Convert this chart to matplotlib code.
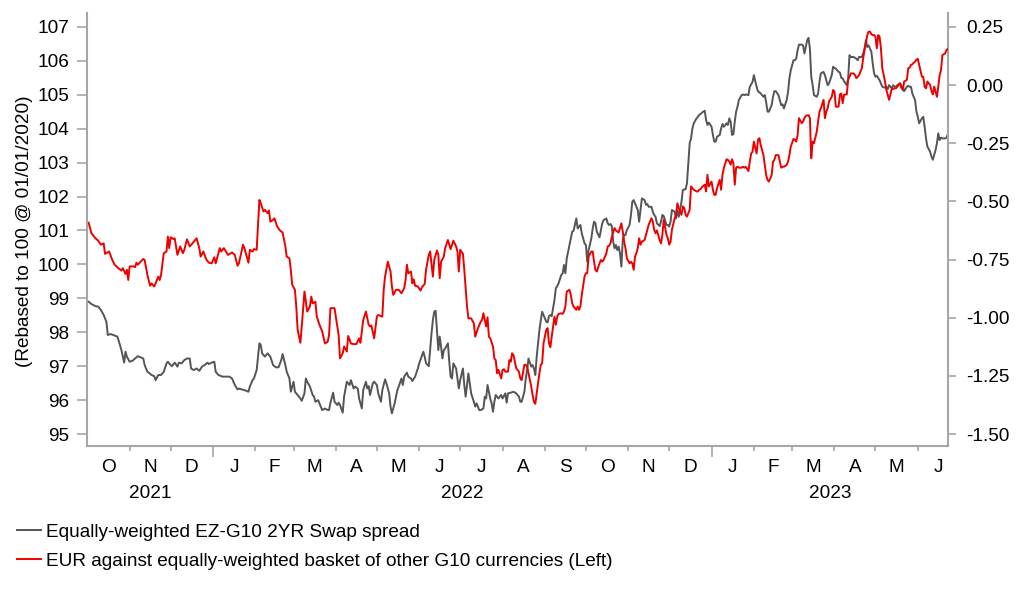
import matplotlib
matplotlib.use("Agg")
import matplotlib.pyplot as plt
import matplotlib.transforms as mtransforms
from matplotlib.ticker import FixedLocator, NullFormatter
import matplotlib.dates as mdates
import pandas as pd

plt.rcParams['font.family'] = ['Liberation Sans', 'DejaVu Sans']
plt.rcParams['axes.unicode_minus'] = False

# ---------------- data ----------------
start_date = "2021-10-01"
end_date = "2023-06-23"

# EUR against equally-weighted basket (left axis), days since start_date
eur_days = [1, 3, 6, 8, 10, 12, 13, 16, 18, 20, 23, 25, 26, 28, 29, 30, 31, 34, 35, 36, 37, 39, 41, 42, 44, 46, 47, 49, 50, 52, 53, 54, 56, 58, 59, 60, 61, 63, 64, 66, 68, 70, 71, 73, 75, 77, 80, 82, 83, 85, 87, 89, 91, 93, 94, 97, 98, 100, 102, 103, 106, 108, 110, 111, 114, 115, 118, 119, 121, 122, 124, 126, 127, 129, 130, 132, 133, 134, 136, 137, 139, 141, 143, 145, 146, 148, 149, 150, 152, 153, 154, 156, 157, 159,
            161, 163, 164, 165, 167, 168, 170, 172, 174, 176, 177, 178, 180, 181, 183, 184, 185, 187, 188, 190, 191, 193, 195, 197, 199, 200, 201, 202, 204, 206, 207, 208, 210, 212, 213, 216, 217, 218, 220, 222, 223, 224, 226, 228, 230, 232, 233, 234, 235, 237, 238, 239, 240, 242, 244, 245, 247, 248, 250, 251, 253, 254, 256, 257, 258, 259, 261, 262, 264, 266, 267, 268, 270, 271, 272, 273, 275, 276, 278, 279, 281, 283, 284, 286, 288, 289, 290, 292, 293, 294, 295, 297, 298, 299, 300, 301, 303, 304, 305, 306, 308, 309, 310, 311, 312, 314, 315, 316, 317,
            318, 320, 321, 322, 323, 325, 326, 327, 328, 329, 331, 332, 333, 334, 336, 337, 338, 339, 340, 342, 343, 344, 345, 347, 348, 349, 350, 351, 353, 354, 355, 356, 358, 359, 360, 361, 362, 364, 365, 366, 367, 369, 370, 371, 372, 373, 375, 376, 377, 378, 380, 381, 382, 383, 384, 386, 387, 388, 389, 391, 392, 393, 394, 395, 397, 398, 399, 400, 401, 402, 403, 404, 405, 406, 408, 409, 410, 411, 413, 414, 415, 416, 417, 419, 420, 421, 422, 424, 425, 426, 427, 428, 430, 431, 432, 433, 435, 436, 437, 438, 439, 441, 442, 443, 444, 446, 447, 448, 449, 450, 452, 453, 454, 455, 457, 458, 459, 460, 461, 463, 464, 465, 466, 468, 469, 470, 471, 472, 473, 474, 475,
            476, 477, 479, 480, 481, 482, 484, 485, 486, 487, 488, 490, 491, 492, 493, 495, 496, 497, 498, 499, 501, 502, 503, 504, 506, 507, 508, 509, 510, 512, 513, 514, 515, 517, 518, 519, 520, 521, 523, 524, 525, 526, 528, 529, 530, 531, 532, 534, 535, 536, 537, 539, 540, 541, 542, 543, 545, 546, 547, 548, 550, 551, 552, 553, 554, 556, 557, 558, 559, 561, 562, 563, 564, 565, 567, 568, 569, 570, 571, 572, 573, 574, 575, 576, 577, 578, 579, 580, 581, 582, 584, 585, 586, 587, 589, 590, 591, 592, 593, 595, 596, 597, 598, 600, 601, 602, 603, 604, 606, 607, 608, 609, 611, 612, 613, 614, 615, 617, 618, 619, 620, 622, 623, 624, 625, 626, 628, 629, 630]
eur_values = [101.23, 100.92, 100.77, 100.70, 100.58, 100.62, 100.31, 100.38, 100.16, 99.99, 99.88, 99.82, 99.89, 99.72, 99.84, 99.54, 99.94, 99.94, 99.92, 100.05, 99.99, 100.08, 100.16, 100.13, 99.69, 99.37, 99.44, 99.35, 99.44, 99.64, 99.54, 99.69, 100.33, 100.38, 100.82, 100.48, 100.80, 100.75, 100.77, 100.28, 100.53, 100.33, 100.43, 100.74, 100.53, 100.62, 100.77, 100.48, 100.23, 100.38, 100.15, 100.05, 100.03, 100.21, 100.03, 100.48, 100.38, 100.48, 100.35, 100.28, 100.35, 100.28, 99.96, 100.03, 100.58, 100.48, 100.05, 100.43, 100.38, 100.45, 100.43, 101.90, 101.80, 101.56, 101.61, 101.51, 101.59, 101.26, 101.31, 101.36, 101.12, 101.00, 100.94, 100.53, 100.23, 100.18, 99.84, 99.40, 99.25, 98.76, 98.07, 97.69, 98.17, 99.20,
              98.61, 98.76, 99.05, 98.85, 98.90, 98.46, 98.22, 98.02, 97.67, 97.72, 97.92, 98.71, 98.71, 98.71, 98.17, 97.92, 97.23, 97.38, 97.58, 97.43, 97.89, 97.67, 97.65, 97.65, 97.82, 97.69, 98.02, 98.36, 98.61, 98.22, 98.17, 98.20, 97.82, 98.46, 98.51, 98.46, 99.25, 99.64, 100.08, 99.79, 99.35, 99.10, 99.25, 99.25, 99.15, 99.30, 99.54, 99.99, 99.74, 99.79, 99.44, 99.56, 99.37, 99.35, 99.23, 99.33, 99.42, 99.84, 100.28, 100.38, 99.64, 100.13, 100.41, 100.28, 99.59, 100.08, 100.23, 100.48, 100.72, 100.45, 100.58, 100.70, 100.53, 100.38, 99.79, 100.43, 100.31, 99.84, 98.76, 98.41, 98.41, 98.26, 97.87, 98.12, 98.31, 98.36, 98.56, 98.17, 98.44, 97.87, 97.82, 97.58, 97.23, 97.18, 96.79, 96.89, 96.64, 96.89, 96.91, 96.84, 96.84, 97.18, 97.13, 97.38, 97.33, 96.94, 96.89, 96.84, 96.64,
              96.59, 97.04, 97.04, 96.99, 96.79, 96.40, 96.15, 95.95, 95.89, 96.20, 96.79, 97.04, 97.08, 97.67, 98.07, 98.12, 97.67, 97.56, 97.87, 98.46, 98.22, 98.46, 98.54, 98.56, 98.54, 98.61, 98.76, 99.20, 99.25, 99.10, 98.85, 98.76, 98.66, 98.76, 98.66, 98.76, 99.10, 99.64, 99.74, 99.74, 100.23, 100.38, 100.38, 100.08, 99.84, 99.79, 100.03, 100.13, 100.08, 100.13, 100.33, 100.53, 100.55, 100.62, 100.82, 101.07, 101.00, 100.97, 100.94, 101.21, 100.97, 100.67, 100.48, 100.18, 100.03, 100.08, 100.03, 99.84, 100.23, 100.33, 100.48, 100.77, 100.58, 100.67, 100.72, 100.87, 101.02, 101.17, 101.36, 101.26, 101.02, 100.92, 101.00, 100.72, 100.62, 100.87, 101.31, 100.87, 100.77, 100.58, 100.67, 101.02, 101.36, 101.46, 101.80, 101.66, 101.46, 101.71, 101.66, 101.46, 101.41, 101.61, 102.30, 102.25, 102.20, 102.15, 102.15, 102.20, 102.22, 102.28, 102.35, 102.15, 102.64, 102.30, 102.44, 102.20, 102.05, 102.05, 102.25, 102.49, 102.20, 102.64, 102.84, 103.10, 103.08, 103.03, 102.94, 103.10, 102.98, 102.35, 102.85,
              102.88, 102.85, 102.85, 102.88, 102.85, 102.88, 102.75, 103.03, 103.27, 103.32, 103.62, 103.27, 103.67, 103.72, 103.52, 103.22, 102.93, 102.63, 102.49, 102.44, 102.63, 103.03, 103.08, 103.22, 103.22, 103.03, 102.85, 102.88, 102.88, 102.93, 103.03, 103.22, 103.47, 103.70, 103.67, 103.62, 103.81, 104.31, 104.16, 104.21, 104.31, 104.38, 104.40, 104.31, 103.13, 103.62, 103.57, 103.91, 104.21, 104.50, 104.60, 104.85, 104.31, 104.50, 104.60, 104.80, 104.94, 105.14, 105.09, 104.65, 104.65, 105.01, 105.04, 104.75, 105.00, 105.01, 105.44, 105.53, 105.63, 105.63, 105.58, 105.49, 105.53, 105.58, 105.78, 106.08, 106.32, 106.52, 106.76, 106.86, 106.86, 106.78, 106.76, 106.76, 106.71, 106.37, 106.76, 106.71, 106.37, 105.78, 105.39, 105.14, 104.99, 104.85, 105.19, 105.17, 105.19, 105.19, 105.24, 105.34, 105.24, 105.14, 105.39, 105.44, 105.78, 105.80, 105.88, 105.90, 105.98, 106.03, 106.06, 105.88, 105.53, 105.53, 105.24, 105.19, 105.39, 105.29, 105.11, 105.01, 105.24, 104.94, 105.24, 105.58, 105.73, 106.17, 106.22, 106.32, 106.35]

# Equally-weighted EZ-G10 2YR swap spread (right axis), days since start_date
spread_days = [1, 3, 6, 8, 10, 12, 14, 15, 17, 19, 22, 23, 25, 27, 28, 29, 31, 33, 35, 37, 39, 41, 42, 44, 45, 47, 49, 50, 52, 54, 56, 58, 59, 61, 62, 64, 66, 67, 69, 71, 73, 75, 76, 78, 80, 82, 84, 86, 88, 89, 91, 93, 94, 96, 99, 101, 104, 106, 108, 110, 111, 113, 115, 118, 119, 121, 122, 124, 126, 127, 128, 130, 132, 134, 136, 138, 140, 142, 143, 145, 146, 148, 149, 151, 152, 154, 156, 157, 159,
               160, 161, 163, 165, 166, 167, 169, 170, 172, 174, 175, 177, 178, 180, 181, 183, 184, 185, 187, 188, 190, 192, 193, 195, 196, 198, 199, 201, 202, 204, 205, 206, 207, 209, 210, 212, 213, 215, 216, 218, 219, 221, 222, 223, 225, 227, 228, 230, 231, 232, 234, 235, 237, 238, 240, 242, 243, 244, 246, 247, 248, 250, 251, 252, 253, 254, 255, 256, 257, 258, 259, 260, 261, 262, 264, 265, 266, 267, 268, 270, 271, 272, 273, 275, 276, 277, 279, 280, 281, 283, 284, 285, 287, 288, 290, 291, 292, 293, 295, 296, 297, 298, 299, 301, 302, 303, 304, 306, 307, 308, 310, 312, 314, 316, 317,
               318, 320, 321, 322, 323, 325, 326, 327, 328, 329, 331, 332, 333, 334, 336, 337, 338, 339, 340, 342, 343, 344, 345, 347, 348, 349, 350, 351, 353, 354, 355, 356, 358, 359, 360, 361, 362, 364, 365, 366, 367, 369, 370, 371, 372, 373, 375, 376, 377, 378, 380, 381, 382, 383, 384, 385, 386, 387, 388, 389, 390, 391, 392, 393, 394, 395, 397, 398, 399, 400, 402, 403, 404, 405, 406, 408, 409, 410, 411, 413, 414, 415, 416, 417, 419, 420, 421, 422, 424, 425, 426, 427, 428, 430, 431, 432, 433, 435, 436, 437, 438, 439, 441, 442, 443, 444, 446, 447, 448, 449, 450, 452, 453, 454, 455, 457, 458, 459, 460, 461, 463, 464, 465, 466, 468, 469, 470, 471, 472, 473, 474, 475,
               476, 477, 479, 480, 481, 482, 484, 485, 486, 487, 488, 490, 491, 492, 493, 495, 496, 497, 498, 499, 501, 502, 503, 504, 506, 507, 508, 509, 510, 512, 513, 514, 515, 517, 518, 519, 520, 521, 523, 524, 525, 526, 527, 528, 529, 530, 531, 532, 534, 535, 536, 537, 539, 540, 541, 542, 543, 545, 546, 547, 548, 550, 551, 552, 553, 554, 556, 557, 558, 559, 561, 562, 563, 564, 565, 567, 568, 569, 570, 571, 572, 573, 574, 575, 576, 577, 578, 580, 581, 582, 584, 585, 586, 587, 589, 590, 591, 592, 593, 595, 596, 597, 598, 600, 601, 602, 603, 604, 606, 607, 608, 609, 611, 612, 613, 614, 615, 617, 618, 619, 620, 621, 622, 623, 624, 625, 626, 628, 629, 630]
spread_values = [-0.931, -0.941, -0.950, -0.952, -0.967, -0.988, -1.017, -1.074, -1.070, -1.074, -1.081, -1.099, -1.139, -1.193, -1.146, -1.167, -1.189, -1.185, -1.175, -1.165, -1.170, -1.175, -1.203, -1.232, -1.236, -1.246, -1.251, -1.268, -1.246, -1.246, -1.232, -1.196, -1.189, -1.203, -1.208, -1.193, -1.210, -1.193, -1.196, -1.182, -1.175, -1.175, -1.218, -1.225, -1.218, -1.228, -1.210, -1.203, -1.193, -1.199, -1.193, -1.189, -1.232, -1.246, -1.253, -1.253, -1.253, -1.261, -1.289, -1.308, -1.304, -1.308, -1.311, -1.318, -1.296, -1.268, -1.261, -1.225, -1.110, -1.117, -1.153, -1.167, -1.153, -1.167, -1.203, -1.213, -1.213, -1.182, -1.156, -1.203, -1.232, -1.261, -1.318, -1.275, -1.318, -1.332, -1.347, -1.357, -1.325,
                 -1.261, -1.275, -1.296, -1.332, -1.339, -1.361, -1.354, -1.368, -1.397, -1.390, -1.394, -1.397, -1.365, -1.322, -1.361, -1.375, -1.365, -1.375, -1.408, -1.339, -1.275, -1.289, -1.268, -1.304, -1.296, -1.304, -1.347, -1.390, -1.311, -1.275, -1.304, -1.294, -1.332, -1.282, -1.275, -1.289, -1.325, -1.361, -1.311, -1.265, -1.282, -1.325, -1.382, -1.411, -1.368, -1.311, -1.296, -1.261, -1.289, -1.253, -1.236, -1.253, -1.261, -1.272, -1.253, -1.218, -1.196, -1.179, -1.146, -1.167, -1.196, -1.208, -1.139, -1.067, -1.010, -0.974, -0.970, -1.053, -1.139, -1.081, -1.124, -1.175, -1.139, -1.132, -1.110, -1.189, -1.253, -1.261, -1.196, -1.218, -1.261, -1.304, -1.268, -1.218, -1.289, -1.339, -1.239, -1.282, -1.325, -1.361, -1.382, -1.368, -1.397, -1.397, -1.390, -1.339, -1.347, -1.289, -1.347, -1.368, -1.404, -1.361, -1.332, -1.347, -1.339, -1.332, -1.347, -1.325, -1.365, -1.325, -1.322, -1.318, -1.325, -1.339, -1.361,
                 -1.361, -1.318, -1.261, -1.225, -1.175, -1.210, -1.203, -1.218, -1.246, -1.167, -1.053, -1.010, -0.974, -0.988, -1.017, -1.020, -0.993, -0.988, -0.993, -0.924, -0.874, -0.864, -0.852, -0.816, -0.809, -0.773, -0.809, -0.745, -0.687, -0.659, -0.630, -0.626, -0.573, -0.616, -0.608, -0.601, -0.637, -0.680, -0.687, -0.759, -0.709, -0.659, -0.616, -0.587, -0.594, -0.630, -0.654, -0.623, -0.594, -0.580, -0.573, -0.594, -0.601, -0.597, -0.606, -0.673, -0.702, -0.687, -0.709, -0.694, -0.723, -0.780, -0.666, -0.644, -0.644, -0.623, -0.601, -0.558, -0.501, -0.494, -0.523, -0.537, -0.587, -0.537, -0.487, -0.494, -0.515, -0.511, -0.523, -0.523, -0.544, -0.558, -0.566, -0.594, -0.606, -0.587, -0.558, -0.563, -0.601, -0.601, -0.608, -0.587, -0.537, -0.544, -0.573, -0.537, -0.566, -0.501, -0.451, -0.448, -0.448, -0.422, -0.250, -0.229, -0.186, -0.164, -0.143, -0.136, -0.128, -0.124, -0.118, -0.110, -0.150, -0.171, -0.161, -0.179, -0.214, -0.243, -0.243, -0.222, -0.214, -0.186, -0.167, -0.179, -0.164, -0.171, -0.143, -0.157, -0.214, -0.211, -0.157, -0.114,
                 -0.093, -0.064, -0.043, -0.040, -0.043, -0.040, -0.043, -0.007, 0.003, 0.014, 0.043, -0.007, -0.026, -0.031, -0.036, -0.050, -0.043, -0.074, -0.114, -0.114, -0.086, -0.050, -0.026, -0.026, -0.043, -0.064, -0.086, -0.083, -0.100, -0.064, -0.029, 0.029, 0.064, 0.107, 0.107, 0.114, 0.150, 0.174, 0.174, 0.171, 0.136, 0.164, 0.193, 0.203, 0.157, 0.036, 0.000, -0.043, -0.050, -0.036, 0.014, 0.050, 0.057, 0.043, 0.021, 0.000, 0.007, 0.043, 0.079, 0.074, 0.071, 0.057, 0.054, 0.031, 0.029, 0.017, 0.000, 0.029, 0.129, 0.121, 0.121, 0.117, 0.114, 0.107, 0.121, 0.121, 0.136, 0.157, 0.193, 0.164, 0.171, 0.157, 0.143, 0.093, 0.050, 0.036, 0.040, 0.021, 0.007, -0.007, -0.011, -0.007, -0.017, 0.000, -0.014, 0.000, -0.007, -0.007, 0.000, 0.007, -0.014, -0.007, -0.026, -0.007, -0.003, -0.007, -0.007, -0.036, -0.064, -0.114, -0.136, -0.164, -0.143, -0.136, -0.179, -0.229, -0.264, -0.286, -0.307, -0.321, -0.300, -0.279, -0.250, -0.207, -0.236, -0.226, -0.229, -0.229, -0.226, -0.211]

left_ticks = [95, 96, 97, 98, 99, 100, 101, 102, 103, 104, 105, 106, 107]
right_ticks = [-1.50, -1.25, -1.00, -0.75, -0.50, -0.25, 0.00, 0.25]
month_letters = ["O", "N", "D", "J", "F", "M", "A", "M", "J", "J", "A", "S",
                 "O", "N", "D", "J", "F", "M", "A", "M", "J"]
year_labels = ["2021", "2022", "2023"]

series_labels = ["Equally-weighted EZ-G10 2YR Swap spread",
                 "EUR against equally-weighted basket of other G10 currencies (Left)"]
y_label = "(Rebased to 100 @ 01/01/2020)"

# ---------------- styling ----------------
RED = "#ee0000"
GREY = "#555555"
AXIS = "#a6a6a6"
FS = 13.7

base = pd.Timestamp(start_date)
x_end = pd.Timestamp(end_date) + pd.Timedelta(hours=8)
eur_dates = base + pd.to_timedelta(eur_days, unit="D")
spread_dates = base + pd.to_timedelta(spread_days, unit="D")

fig = plt.figure(figsize=(10.22, 5.97), dpi=100)
ax = fig.add_axes([0.0854, 0.2534, 0.8425, 0.7248])
ax2 = ax.twinx()

ax2.plot(spread_dates, spread_values, color=GREY, lw=1.4, label=series_labels[0])
ax.plot(eur_dates, eur_values, color=RED, lw=1.4, label=series_labels[1])
ax.set_zorder(ax2.get_zorder() + 1)
ax.patch.set_visible(False)

ax.set_xlim(base, x_end)
ax.set_ylim(94.655, 107.41)
ax2.set_ylim(-1.550, 0.310)

ax.set_yticks(left_ticks)
ax.set_yticklabels([str(t) for t in left_ticks])
ax2.set_yticks(right_ticks)
ax2.set_yticklabels([f"{t:.2f}" for t in right_ticks])

month_starts = pd.date_range(start_date, periods=len(month_letters) + 1, freq="MS")
year_starts = [d for d in month_starts if d.month == 1]
ax.xaxis.set_major_locator(FixedLocator(mdates.date2num(year_starts)))
ax.xaxis.set_minor_locator(FixedLocator(mdates.date2num([d for d in month_starts if d.month != 1 and base < d < x_end])))
ax.xaxis.set_major_formatter(NullFormatter())
ax.xaxis.set_minor_formatter(NullFormatter())

for a in (ax, ax2):
    a.spines["top"].set_visible(False)
    for side in ("left", "right", "bottom"):
        a.spines[side].set_color(AXIS)
        a.spines[side].set_linewidth(1.5)
ax.spines["right"].set_visible(False)
ax2.spines["left"].set_visible(False)
ax2.spines["bottom"].set_visible(False)

ax.tick_params(axis="y", which="major", length=7, width=1.2, color=AXIS, pad=6, labelsize=FS)
ax2.tick_params(axis="y", which="major", length=6, width=1.2, color=AXIS, pad=7, labelsize=FS)
ax.tick_params(axis="x", which="major", length=8, width=1.2, color=AXIS)
ax.tick_params(axis="x", which="minor", length=3.5, width=1.2, color=AXIS)

# month letters centred in each month
trans = mtransforms.blended_transform_factory(ax.transData, fig.transFigure)
for i, letter in enumerate(month_letters):
    mid = month_starts[i] + (month_starts[i + 1] - month_starts[i]) / 2
    ax.text(mdates.date2num(mid), 1 - 468 / 597, letter, transform=trans,
            ha="center", va="center", fontsize=FS)

# year labels centred in the visible part of each year
for lab in year_labels:
    y0 = max(base, pd.Timestamp(f"{lab}-01-01"))
    y1 = min(x_end, pd.Timestamp(f"{int(lab) + 1}-01-01"))
    mid = y0 + (y1 - y0) / 2
    ax.text(mdates.date2num(mid), 1 - 494 / 597, lab, transform=trans,
            ha="center", va="center", fontsize=FS)

fig.text(25 / 1022, 1 - 231 / 597, y_label, rotation=90, ha="center", va="center", fontsize=FS)

h2, l2 = ax2.get_legend_handles_labels()
h1, l1 = ax.get_legend_handles_labels()
fig.legend(h2 + h1, l2 + l1, loc="upper left", bbox_to_anchor=(11 / 1022, 1 - 518 / 597),
           frameon=False, fontsize=FS, handlelength=1.3, handletextpad=0.25,
           labelspacing=0.62, borderaxespad=0, borderpad=0.3)

fig.savefig("out.png", dpi=100)
